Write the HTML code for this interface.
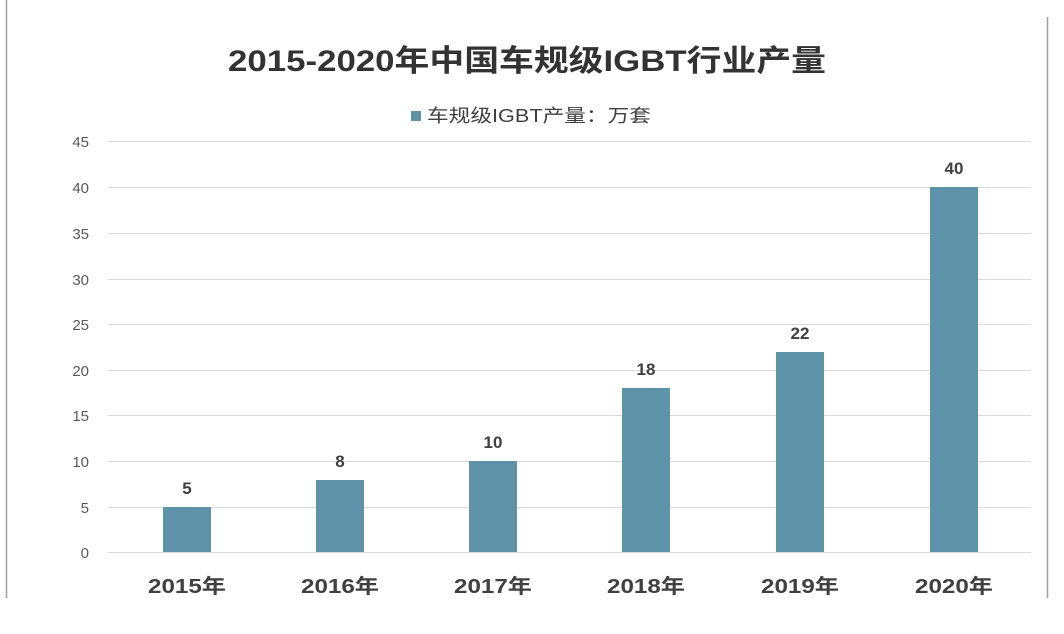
<!DOCTYPE html><html><head><meta charset="utf-8"><style>body{margin:0;background:#fff}svg{display:block}</style></head><body>
<svg width="1064" height="634" xmlns="http://www.w3.org/2000/svg" font-family="Liberation Sans, Noto Sans CJK SC, sans-serif">
<rect width="1064" height="634" fill="#fff"/>
<line x1="6.5" y1="0" x2="6.5" y2="598" stroke="#a0a0a0" stroke-width="1.5"/>
<line x1="1047.5" y1="17" x2="1047.5" y2="598" stroke="#a0a0a0" stroke-width="1.5"/>
<text x="228" y="71" font-size="30" font-weight="bold" fill="#333" textLength="598" lengthAdjust="spacingAndGlyphs">2015-2020年中国车规级IGBT行业产量</text>
<rect x="411" y="111" width="10" height="10" fill="#5e92a8"/>
<text x="427" y="122" font-size="18" fill="#404040" textLength="224" lengthAdjust="spacingAndGlyphs">车规级IGBT产量：万套</text>
<g stroke="#d9d9d9" stroke-width="1">
<line x1="108" x2="1031" y1="141.5" y2="141.5"/><line x1="108" x2="1031" y1="187.5" y2="187.5"/>
<line x1="108" x2="1031" y1="233.5" y2="233.5"/><line x1="108" x2="1031" y1="279.5" y2="279.5"/>
<line x1="108" x2="1031" y1="324.5" y2="324.5"/><line x1="108" x2="1031" y1="370.5" y2="370.5"/>
<line x1="108" x2="1031" y1="415.5" y2="415.5"/><line x1="108" x2="1031" y1="461.5" y2="461.5"/>
<line x1="108" x2="1031" y1="507.5" y2="507.5"/><line x1="108" x2="1031" y1="552.5" y2="552.5"/>
</g>
<g font-size="15" fill="#595959" text-anchor="end">
<text x="89" y="147">45</text><text x="89" y="193">40</text><text x="89" y="239">35</text><text x="89" y="285">30</text><text x="89" y="330">25</text><text x="89" y="376">20</text><text x="89" y="421">15</text><text x="89" y="467">10</text><text x="89" y="513">5</text><text x="89" y="558">0</text>
</g>
<g fill="#5e92a8">
<rect x="163" y="507" width="48" height="45"/>
<rect x="316" y="480" width="48" height="72"/>
<rect x="469" y="461" width="48" height="91"/>
<rect x="622" y="388" width="48" height="164"/>
<rect x="776" y="352" width="48" height="200"/>
<rect x="930" y="187" width="48" height="365"/>
</g>
<g font-size="17" font-weight="bold" fill="#404040" text-anchor="middle">
<text x="187" y="494">5</text><text x="340" y="467">8</text><text x="493" y="448">10</text><text x="646" y="375">18</text><text x="800" y="339">22</text><text x="954" y="174">40</text>
</g>
<g font-size="20" font-weight="bold" fill="#404040">
<text x="148" y="593" textLength="78" lengthAdjust="spacingAndGlyphs">2015年</text>
<text x="301" y="593" textLength="78" lengthAdjust="spacingAndGlyphs">2016年</text>
<text x="454" y="593" textLength="78" lengthAdjust="spacingAndGlyphs">2017年</text>
<text x="607" y="593" textLength="78" lengthAdjust="spacingAndGlyphs">2018年</text>
<text x="761" y="593" textLength="78" lengthAdjust="spacingAndGlyphs">2019年</text>
<text x="915" y="593" textLength="78" lengthAdjust="spacingAndGlyphs">2020年</text>
</g>
</svg></body></html>
